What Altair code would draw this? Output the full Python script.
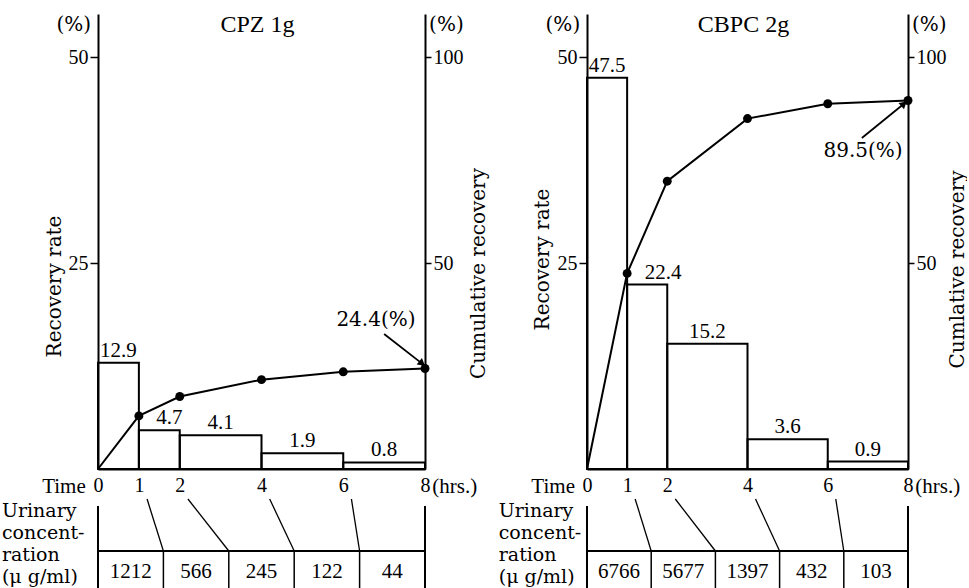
import altair as alt
import pandas as pd

# ---------------- data ----------------
times = [0, 1, 2, 4, 6, 8]
starts = [0, 1, 2, 4, 6]
ends = [1, 2, 4, 6, 8]
cpz_rate = [12.9, 4.7, 4.1, 1.9, 0.8]
cpz_cum = [0, 12.9, 17.6, 21.7, 23.6, 24.4]
cbpc_rate = [47.5, 22.4, 15.2, 3.6, 0.9]
cbpc_cum = [0, 47.5, 69.9, 85.1, 88.7, 89.5]
cpz_conc = [1212, 566, 245, 122, 44]
cbpc_conc = [6766, 5677, 1397, 432, 103]
cell_edges = [0, 1.6, 3.2, 4.8, 6.4, 8]
conc_lines = ["Urinary", "concent-", "ration", "(μ g/ml)"]
left_ticks = [25, 50]
right_ticks = [50, 100]

SERIF = "Liberation Serif"
DSERIF = "DejaVu Serif"

XS = alt.Scale(domain=[0, 8], nice=False, zero=False)
YL = alt.Scale(domain=[0, 55.25], nice=False, zero=False)
YR = alt.Scale(domain=[0, 110.5], nice=False, zero=False)
YT = alt.Scale(domain=[0, 93], nice=False, zero=False, reverse=True)

XA = alt.Axis(values=times, ticks=False, title=None, grid=False, domainColor="black",
              domainWidth=2, labelFont=SERIF, labelFontSize=20, labelColor="black",
              labelPadding=6, format="d", labelFlush=False, labelOverlap=False)


def X(field):
    return alt.X(field, type="quantitative", scale=XS, axis=XA)


def txt(df, x, y, yscale, align="center", size=20, font=DSERIF, baseline="middle", dx=0, dy=0):
    return alt.Chart(df).mark_text(align=align, baseline=baseline, font=font, fontSize=size,
                                   color="black", dx=dx, dy=dy).encode(
        x=X(x), y=alt.Y(y, type="quantitative", scale=yscale, axis=None), text="t:N")


def panel(W, title, cumtitle, rate, cum, conc, final_label, lab2_dx,
          ltx, lty, rtx, rty, note_xy, arrow, arrow_angle, conc_x):
    bars = pd.DataFrame({"s": starts, "e": ends, "r": rate, "base": [0] * 5,
                         "m": [(a + b) / 2 for a, b in zip(starts, ends)],
                         "idx": list(range(5)),
                         "t": [f"{v:.1f}" for v in rate]})
    cdf = pd.DataFrame({"x": times, "c": cum})
    pts = cdf.iloc[1:]

    yal = alt.Axis(values=left_ticks, title="Recovery rate", orient="left", grid=False,
                   domainColor="black", domainWidth=2, tickColor="black", tickWidth=1.5,
                   tickSize=8, labelFont=SERIF, labelFontSize=20, labelColor="black",
                   labelPadding=2, titleFont=DSERIF, titleFontSize=20, titleFontWeight="normal",
                   titleColor="black", titleAngle=270, titleX=ltx, titleY=lty,
                   titleAlign="center", titleBaseline="middle")
    yar = alt.Axis(values=right_ticks, title=cumtitle, orient="right", grid=False,
                   domainColor="black", domainWidth=2, tickColor="black", tickWidth=1.5,
                   tickSize=6, labelFont=SERIF, labelFontSize=20, labelColor="black",
                   labelPadding=2, titleFont=DSERIF, titleFontSize=20, titleFontWeight="normal",
                   titleColor="black", titleAngle=270, titleX=rtx, titleY=rty,
                   titleAlign="center", titleBaseline="middle")

    bar_layer = alt.Chart(bars).mark_rect(fillOpacity=0, stroke="black", strokeWidth=2).encode(
        x=X("s"), x2="e", y=alt.Y("r", type="quantitative", scale=YL, axis=yal), y2="base")
    line_layer = alt.Chart(cdf).mark_line(color="black", strokeWidth=2).encode(
        x=X("x"), y=alt.Y("c", type="quantitative", scale=YR, axis=yar))
    pt_layer = alt.Chart(pts).mark_point(filled=True, color="black", size=80, opacity=1).encode(
        x=X("x"), y=alt.Y("c", type="quantitative", scale=YR, axis=None))

    lab_main = alt.Chart(bars).transform_filter("datum.idx != 1").mark_text(
        font=SERIF, fontSize=21, color="black", baseline="alphabetic", dy=-6).encode(
        x=X("m"), y=alt.Y("r", type="quantitative", scale=YL, axis=None), text="t:N")
    lab_2 = alt.Chart(bars).transform_filter("datum.idx == 1").mark_text(
        font=SERIF, fontSize=21, color="black", baseline="alphabetic", dy=-6, dx=lab2_dx).encode(
        x=X("m"), y=alt.Y("r", type="quantitative", scale=YL, axis=None), text="t:N")

    # annotation: final cumulative value with arrow
    note = pd.DataFrame({"x": [note_xy[0]], "y": [note_xy[1]], "t": [final_label]})
    note_layer = txt(note, "x", "y", YR, size=20)
    adf = pd.DataFrame({"x": [arrow[0]], "x2": [arrow[2]], "y": [arrow[1]], "y2": [arrow[3]]})
    arrow_line = alt.Chart(adf).mark_rule(color="black", strokeWidth=1.8).encode(
        x=X("x"), x2="x2", y=alt.Y("y", type="quantitative", scale=YR, axis=None), y2="y2")
    head = pd.DataFrame({"x": [arrow[2]], "y": [arrow[3]]})
    arrow_head = alt.Chart(head).mark_point(shape="triangle-up", filled=True, color="black",
                                            size=70, opacity=1, angle=arrow_angle).encode(
        x=X("x"), y=alt.Y("y", type="quantitative", scale=YR, axis=None))

    # titles and unit texts
    t_title = txt(pd.DataFrame({"x": [3.9], "y": [53.9], "t": [title]}), "x", "y", YL,
                  size=24, font=SERIF)
    t_pl = txt(pd.DataFrame({"x": [-0.17], "y": [53.9], "t": ["(%)"]}), "x", "y", YL,
               align="right", size=20)
    t_pr = txt(pd.DataFrame({"x": [8.1], "y": [53.9], "t": ["(%)"]}), "x", "y", YL,
               align="left", size=20)
    t_time = txt(pd.DataFrame({"x": [-0.3], "y": [-2.2], "t": ["Time"]}), "x", "y", YL,
                 align="right", size=21, font=SERIF)
    t_hrs = txt(pd.DataFrame({"x": [8.18], "y": [-2.2], "t": ["(hrs.)"]}), "x", "y", YL,
                align="left", size=21, font=SERIF)

    top = alt.layer(bar_layer, line_layer, pt_layer, lab_main, lab_2, note_layer, arrow_line,
                    arrow_head, t_title, t_pl, t_pr, t_time, t_hrs).resolve_scale(
        y="independent").properties(width=W, height=455)

    # ---------------- table ----------------
    def XT(f):
        return alt.X(f, type="quantitative", scale=XS, axis=None)

    def YTT(f):
        return alt.Y(f, type="quantitative", scale=YT, axis=None)

    borders = pd.DataFrame({"x": [0, 8], "y": [10, 10], "y2": [93, 93]})
    b_layer = alt.Chart(borders).mark_rule(color="black", strokeWidth=2).encode(
        x=XT("x"), y=YTT("y"), y2="y2")
    hl = pd.DataFrame({"x": [0], "x2": [8], "y": [55]})
    h_layer = alt.Chart(hl).mark_rule(color="black", strokeWidth=2).encode(
        x=XT("x"), x2="x2", y=YTT("y"))
    diag = pd.DataFrame({"x": [t + 0.2 for t in times[1:5]], "x2": cell_edges[1:5],
                         "y": [3] * 4, "y2": [55] * 4})
    d_layer = alt.Chart(diag).mark_rule(color="black", strokeWidth=1.3).encode(
        x=XT("x"), x2="x2", y=YTT("y"), y2="y2")
    cells = pd.DataFrame({"x": cell_edges[1:5], "y": [55] * 4, "y2": [93] * 4})
    c_layer = alt.Chart(cells).mark_rule(color="black", strokeWidth=1.5).encode(
        x=XT("x"), y=YTT("y"), y2="y2")
    vals = pd.DataFrame({"x": [(a + b) / 2 for a, b in zip(cell_edges[:-1], cell_edges[1:])],
                         "y": [76] * 5, "t": [str(v) for v in conc]})
    v_layer = alt.Chart(vals).mark_text(font=SERIF, fontSize=21, color="black").encode(
        x=XT("x"), y=YTT("y"), text="t:N")
    labs = pd.DataFrame({"x": [conc_x] * 4, "y": [15, 37, 59, 81], "t": conc_lines})
    l_layer = alt.Chart(labs).mark_text(font=DSERIF, fontSize=19, color="black",
                                        align="left").encode(
        x=XT("x"), y=YTT("y"), text="t:N")

    table = alt.layer(b_layer, h_layer, d_layer, c_layer, v_layer, l_layer).properties(
        width=W, height=93)

    return top, table


top_l, table_l = panel(327, "CPZ 1g", "Cumulative recovery", cpz_rate, cpz_cum, cpz_conc,
                       "24.4(%)", 10, -44, 272, 53, 259, (6.8, 36.2),
                       (7.0, 32.8, 7.93, 25.6), 129, -2.35)
top_r, table_r = panel(321, "CBPC 2g", "Cumlative recovery", cbpc_rate, cbpc_cum, cbpc_conc,
                       "89.5(%)", 16, -45, 245, 49, 255, (6.88, 77.2),
                       (6.85, 80.4, 7.9, 88.7), 49, -2.2)

chart = alt.concat(top_l, top_r, table_l, table_r, columns=2, bounds="flush",
                   spacing={"row": 27, "column": 162}).properties(
    padding={"left": 1, "top": 13, "right": 0, "bottom": 0},
    background="white",
).configure_view(stroke=None)

chart.save("out.html", embed_options={"renderer": "svg", "actions": False})
